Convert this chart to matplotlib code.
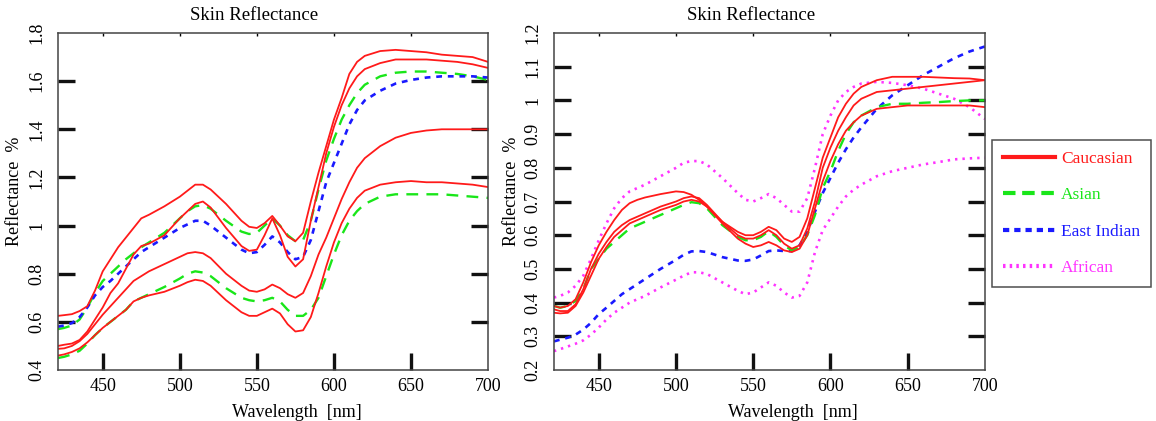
import matplotlib
matplotlib.use("Agg")
import matplotlib.pyplot as plt
from matplotlib.lines import Line2D

plt.rcParams['font.family'] = ['Liberation Serif', 'DejaVu Serif']

# wavelength grid (nm), shared by both panels
wavelength = [421, 425, 430, 435, 440, 445, 450, 455, 460, 465, 470, 475, 480, 490,
              500, 505, 510, 515, 520, 530, 540, 545, 550, 555, 560, 565, 570, 575,
              580, 585, 590, 595, 600, 605, 610, 615, 620, 630, 640, 650, 660, 670,
              680, 690, 700]

# ---- left panel ----
left_red_a = [0.625, 0.628, 0.632, 0.645, 0.665, 0.73, 0.81, 0.86, 0.91, 0.95, 0.99, 1.03, 1.045, 1.08,
              1.12, 1.145, 1.17, 1.17, 1.15, 1.09, 1.02, 0.995, 0.99, 1.01, 1.04, 1.0, 0.955, 0.935,
              0.97, 1.10, 1.22, 1.33, 1.44, 1.53, 1.63, 1.68, 1.705, 1.725, 1.73, 1.725, 1.72, 1.71,
              1.705, 1.70, 1.68]
left_red_b = [0.50, 0.505, 0.51, 0.525, 0.56, 0.61, 0.66, 0.72, 0.76, 0.82, 0.88, 0.915, 0.925, 0.96,
              1.03, 1.06, 1.09, 1.10, 1.075, 0.99, 0.915, 0.895, 0.90, 0.96, 1.03, 0.96, 0.87, 0.83,
              0.86, 1.02, 1.16, 1.30, 1.41, 1.50, 1.57, 1.62, 1.65, 1.675, 1.69, 1.69, 1.69, 1.685,
              1.68, 1.67, 1.655]
left_red_c = [0.488, 0.49, 0.50, 0.52, 0.55, 0.59, 0.63, 0.665, 0.70, 0.735, 0.77, 0.79, 0.81, 0.84,
              0.87, 0.885, 0.89, 0.885, 0.865, 0.80, 0.75, 0.73, 0.725, 0.735, 0.755, 0.74, 0.715, 0.70,
              0.72, 0.79, 0.88, 0.95, 1.03, 1.11, 1.18, 1.24, 1.28, 1.33, 1.365, 1.385, 1.395, 1.40,
              1.40, 1.40, 1.40]
left_red_d = [0.46, 0.465, 0.475, 0.49, 0.515, 0.545, 0.575, 0.60, 0.625, 0.65, 0.685, 0.70, 0.71, 0.725,
              0.75, 0.765, 0.775, 0.77, 0.75, 0.69, 0.64, 0.625, 0.625, 0.64, 0.655, 0.635, 0.59, 0.56,
              0.565, 0.62, 0.72, 0.83, 0.93, 1.01, 1.07, 1.115, 1.145, 1.17, 1.18, 1.185, 1.18, 1.18,
              1.175, 1.17, 1.16]
left_green_a = [0.57, 0.575, 0.585, 0.61, 0.66, 0.72, 0.77, 0.80, 0.83, 0.86, 0.885, 0.91, 0.93, 0.97,
                1.03, 1.06, 1.08, 1.085, 1.07, 1.02, 0.975, 0.965, 0.97, 1.0, 1.03, 1.0, 0.96, 0.935,
                0.94, 1.02, 1.15, 1.27, 1.36, 1.44, 1.50, 1.55, 1.585, 1.62, 1.635, 1.64, 1.64, 1.635,
                1.63, 1.62, 1.605]
left_green_b = [0.45, 0.455, 0.465, 0.48, 0.51, 0.545, 0.575, 0.60, 0.625, 0.65, 0.685, 0.70, 0.715, 0.745,
                0.78, 0.80, 0.81, 0.805, 0.79, 0.74, 0.70, 0.69, 0.685, 0.69, 0.70, 0.685, 0.65, 0.625,
                0.625, 0.65, 0.70, 0.79, 0.88, 0.96, 1.02, 1.06, 1.09, 1.12, 1.13, 1.13, 1.13, 1.13,
                1.125, 1.12, 1.115]
left_blue = [0.58, 0.585, 0.595, 0.62, 0.66, 0.71, 0.745, 0.77, 0.80, 0.83, 0.86, 0.89, 0.91, 0.95,
             0.99, 1.005, 1.02, 1.02, 1.0, 0.95, 0.90, 0.885, 0.89, 0.92, 0.955, 0.93, 0.89, 0.86,
             0.87, 0.94, 1.06, 1.18, 1.26, 1.34, 1.42, 1.48, 1.52, 1.56, 1.59, 1.605, 1.615, 1.62,
             1.62, 1.62, 1.615]

# ---- right panel ----
right_red_a = [0.39, 0.385, 0.39, 0.41, 0.46, 0.52, 0.57, 0.61, 0.645, 0.675, 0.695, 0.705, 0.712, 0.722,
               0.73, 0.728, 0.72, 0.705, 0.685, 0.64, 0.61, 0.60, 0.60, 0.61, 0.625, 0.615, 0.59, 0.58,
               0.595, 0.65, 0.74, 0.83, 0.89, 0.95, 0.99, 1.02, 1.04, 1.06, 1.07, 1.07, 1.07, 1.068,
               1.066, 1.065, 1.06]
right_red_b = [0.38, 0.375, 0.375, 0.395, 0.44, 0.50, 0.545, 0.58, 0.61, 0.63, 0.645, 0.655, 0.665, 0.685,
               0.70, 0.71, 0.715, 0.71, 0.69, 0.64, 0.60, 0.59, 0.59, 0.60, 0.615, 0.60, 0.575, 0.56,
               0.57, 0.62, 0.70, 0.80, 0.86, 0.91, 0.95, 0.985, 1.005, 1.025, 1.03, 1.035, 1.04, 1.045,
               1.05, 1.055, 1.06]
right_red_c = [0.37, 0.368, 0.37, 0.39, 0.43, 0.48, 0.53, 0.565, 0.595, 0.615, 0.635, 0.645, 0.655, 0.675,
               0.69, 0.70, 0.705, 0.70, 0.685, 0.635, 0.59, 0.575, 0.565, 0.57, 0.58, 0.57, 0.555, 0.55,
               0.56, 0.60, 0.68, 0.76, 0.82, 0.87, 0.91, 0.935, 0.955, 0.975, 0.98, 0.985, 0.985, 0.985,
               0.985, 0.985, 0.98]
right_green = [0.39, 0.385, 0.39, 0.405, 0.44, 0.50, 0.53, 0.56, 0.58, 0.60, 0.62, 0.63, 0.64, 0.66,
               0.68, 0.69, 0.698, 0.695, 0.68, 0.63, 0.595, 0.585, 0.585, 0.595, 0.612, 0.595, 0.57, 0.555,
               0.565, 0.60, 0.66, 0.74, 0.79, 0.85, 0.90, 0.935, 0.955, 0.98, 0.99, 0.99, 0.993, 0.995,
               0.998, 1.0, 1.0]
right_blue = [0.285, 0.29, 0.296, 0.305, 0.32, 0.34, 0.366, 0.385, 0.405, 0.425, 0.44, 0.455, 0.47, 0.50,
              0.527, 0.542, 0.552, 0.553, 0.55, 0.535, 0.525, 0.524, 0.528, 0.54, 0.553, 0.555, 0.553, 0.553,
              0.57, 0.61, 0.67, 0.725, 0.77, 0.815, 0.855, 0.89, 0.92, 0.975, 1.015, 1.045, 1.075, 1.10,
              1.125, 1.145, 1.16]
right_magenta_a = [0.415, 0.42, 0.43, 0.45, 0.48, 0.53, 0.585, 0.635, 0.68, 0.71, 0.73, 0.74, 0.75, 0.775,
                   0.80, 0.815, 0.82, 0.82, 0.81, 0.77, 0.725, 0.705, 0.70, 0.71, 0.722, 0.71, 0.69, 0.67,
                   0.67, 0.71, 0.80, 0.90, 0.955, 1.0, 1.025, 1.04, 1.05, 1.055, 1.052, 1.045, 1.035, 1.02,
                   1.005, 0.98, 0.945]
right_magenta_b = [0.256, 0.262, 0.27, 0.278, 0.288, 0.305, 0.326, 0.35, 0.37, 0.385, 0.40, 0.41, 0.42, 0.445,
                   0.468, 0.48, 0.49, 0.49, 0.485, 0.46, 0.435, 0.425, 0.43, 0.445, 0.46, 0.45, 0.43, 0.415,
                   0.42, 0.46, 0.55, 0.615, 0.65, 0.685, 0.715, 0.735, 0.75, 0.775, 0.79, 0.80, 0.81, 0.817,
                   0.825, 0.828, 0.83]

x_ticks = [450, 500, 550, 600, 650, 700]
left_y_ticks = [0.4, 0.6, 0.8, 1.0, 1.2, 1.4, 1.6, 1.8]
left_y_labels = ['0.4', '0.6', '0.8', '1', '1.2', '1.4', '1.6', '1.8']
right_y_ticks = [0.2, 0.3, 0.4, 0.5, 0.6, 0.7, 0.8, 0.9, 1.0, 1.1, 1.2]
right_y_labels = ['0.2', '0.3', '0.4', '0.5', '0.6', '0.7', '0.8', '0.9', '1', '1.1', '1.2']

legend_labels = ['Caucasian', 'Asian', 'East Indian', 'African']

RED = '#ff1a1a'
GREEN = '#19e619'
BLUE = '#1a1aff'
MAGENTA = '#ff33ff'

red_style = dict(color=RED, lw=1.3)
green_style = dict(color=GREEN, lw=1.7, dashes=(5, 3.5))
blue_style = dict(color=BLUE, lw=1.9, dashes=(2.2, 2.2))
magenta_style = dict(color=MAGENTA, lw=1.9, dashes=(0.9, 1.9))

FS = 13


def style_axes(ax, ylim, yticks, ylabels, ylabel_x):
    ax.set_xlim(421, 700)
    ax.set_ylim(*ylim)
    ax.set_xticks(x_ticks)
    ax.set_yticks(yticks)
    ax.set_yticklabels(ylabels, rotation=90, va='center')
    ax.tick_params(axis='x', direction='in', length=12, width=2.4, color='#111111',
                   labelsize=FS, pad=6, top=False)
    ax.tick_params(axis='y', direction='in', length=12, width=2.4, color='#111111',
                   labelsize=FS, pad=9, left=True, right=True)
    # no marks at the corners, only labels
    yt = ax.yaxis.get_major_ticks()
    for t in (yt[0], yt[-1]):
        t.tick1line.set_visible(False)
        t.tick2line.set_visible(False)
    ax.xaxis.get_major_ticks()[-1].tick1line.set_visible(False)
    for s in ax.spines.values():
        s.set_color('#444444')
        s.set_linewidth(1.1)
    top = ax.secondary_xaxis('top')
    top.set_xticks(x_ticks[:-1])
    top.tick_params(direction='in', length=2.5, width=1, labeltop=False)
    top.spines['top'].set_visible(False)
    ax.set_xlabel('Wavelength  [nm]', fontsize=FS)
    ax.xaxis.set_label_coords(0.555, -0.1)
    ax.set_ylabel('Reflectance  %', fontsize=FS)
    ax.yaxis.set_label_coords(ylabel_x, 0.53)
    ax.text(0.457, 1.052, 'Skin Reflectance', transform=ax.transAxes,
            ha='center', va='center', fontsize=13.5)


fig = plt.figure(figsize=(11.56, 4.21), dpi=100)
ax1 = fig.add_axes([0.0502, 0.1211, 0.372, 0.8005])
ax2 = fig.add_axes([0.4792, 0.1211, 0.3728, 0.8005])

# left panel
for ys in [left_green_a, left_green_b]:
    ax1.plot(wavelength, ys, **green_style)
ax1.plot(wavelength, left_blue, **blue_style)
for ys in [left_red_a, left_red_b, left_red_c, left_red_d]:
    ax1.plot(wavelength, ys, **red_style)
style_axes(ax1, (0.4, 1.8), left_y_ticks, left_y_labels, -0.082)

# right panel
for ys in [right_magenta_a, right_magenta_b]:
    ax2.plot(wavelength, ys, **magenta_style)
ax2.plot(wavelength, right_blue, **blue_style)
ax2.plot(wavelength, right_green, **green_style)
for ys in [right_red_a, right_red_b, right_red_c]:
    ax2.plot(wavelength, ys, **red_style)
style_axes(ax2, (0.2, 1.2), right_y_ticks, right_y_labels, -0.078)

handles = [Line2D([], [], color=RED, lw=3),
           Line2D([], [], color=GREEN, lw=3, dashes=(3, 1.6)),
           Line2D([], [], color=BLUE, lw=3, dashes=(1.5, 1.2)),
           Line2D([], [], color=MAGENTA, lw=3, dashes=(0.6, 1.0))]
leg = fig.legend(handles, legend_labels, loc='upper left', bbox_to_anchor=(0.858, 0.668),
                 fontsize=12.5, handlelength=3.0, handletextpad=0.35, labelspacing=1.17,
                 borderpad=0.62, borderaxespad=0, frameon=True, fancybox=False)
leg.get_frame().set_edgecolor('#222222')
leg.get_frame().set_linewidth(1.1)
for txt, c in zip(leg.get_texts(), [RED, GREEN, BLUE, MAGENTA]):
    txt.set_color(c)

fig.savefig('out.png', dpi=100)
